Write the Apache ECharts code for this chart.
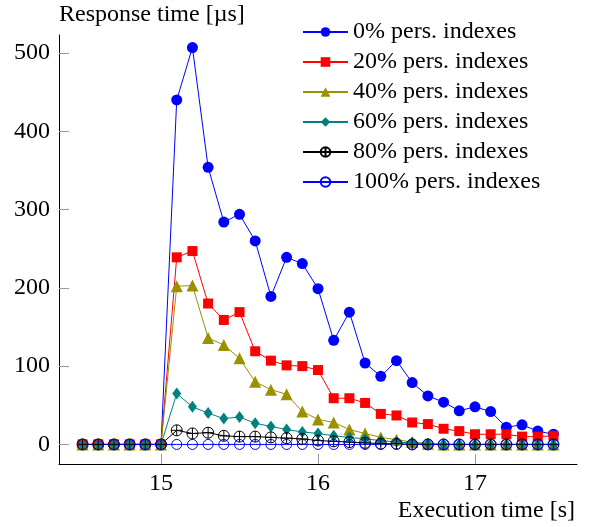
<!DOCTYPE html>
<html>
<head>
<meta charset="utf-8">
<script src="https://cdn.jsdelivr.net/npm/echarts@6/dist/echarts.min.js"></script>
<style>
  html, body { margin: 0; padding: 0; background: #fff; }
  #container { width: 597px; height: 527px; }
</style>
</head>
<body>
<div id="container"></div>
<script>
(function() {
"use strict";

    // execution time [s], one sample every 0.1 s
    var times = [14.5, 14.6, 14.7, 14.8, 14.9, 15.0, 15.1, 15.2, 15.3, 15.4, 15.5,
                 15.6, 15.7, 15.8, 15.9, 16.0, 16.1, 16.2, 16.3, 16.4, 16.5,
                 16.6, 16.7, 16.8, 16.9, 17.0, 17.1, 17.2, 17.3, 17.4, 17.5];

    // response time [µs]
    var pers0 = [0, 0, 0, 0, 0, 0, 440, 507, 354, 284, 294,
                 260, 189, 239, 231, 199, 133, 169, 104, 87, 107,
                 79, 62, 54, 43, 48, 42, 22, 25, 17, 13];
    var pers20 = [0, 0, 0, 0, 0, 0, 239, 247, 180, 159, 169,
                  119, 107, 101, 100, 95, 59, 59, 53, 39, 37,
                  28, 26, 20, 17, 13, 13, 13, 10, 10, 11];
    var pers40 = [0, 0, 0, 0, 0, 0, 202, 203, 136, 127, 110,
                  80, 70, 64, 42, 32, 28, 19, 14, 9, 6,
                  3, 1, 0, 0, 0, 0, 0, 0, 0, 0];
    var pers60 = [0, 0, 0, 0, 0, 0, 65, 48, 40, 33, 35,
                  27, 23, 19, 16, 14, 11, 9, 7, 5, 3,
                  2, 1, 0, 0, 0, 0, 0, 0, 0, 0];
    var pers80 = [0, 0, 0, 0, 0, 0, 18, 14, 15, 11, 10,
                  10, 9, 8, 7, 5, 4, 3, 2, 1, 1,
                  0, 0, 0, 0, 0, 0, 0, 0, 0, 0];
    var pers100 = [0, 0, 0, 0, 0, 0, 0, 0, 0, 0, 0,
                   0, 0, 0, 0, 0, 0, 0, 0, 0, 0,
                   0, 0, 0, 0, 0, 0, 0, 0, 0, 0];

    var names = ['0% pers. indexes', '20% pers. indexes', '40% pers. indexes',
                 '60% pers. indexes', '80% pers. indexes', '100% pers. indexes'];
    var xTicks = [15, 16, 17];
    var yTicks = [0, 100, 200, 300, 400, 500];

    var font = '"Liberation Serif", "DejaVu Serif", serif';
    var oplus = 'path://M10,1 A9,9 0 1,1 10,19 A9,9 0 1,1 10,1 Z M1,10 L19,10 M10,1 L10,19';

    function pairs(vals) {
        return times.map(function(t, i) { return [t, vals[i]]; });
    }

    function line(name, vals, color, symbol, size, fill) {
        return {
            name: name,
            type: 'line',
            data: pairs(vals),
            symbol: symbol,
            symbolSize: size,
            showAllSymbol: true,
            lineStyle: { color: color, width: 1 },
            itemStyle: fill ? { color: color } :
                { color: 'rgba(255,255,255,0)', borderColor: color, borderWidth: 1 },
            emphasis: { disabled: true }
        };
    }

    var dom = document.getElementById('container');
    var myChart = echarts.init(dom, null, { renderer: 'canvas' });

    var option = {
        animation: false,
        backgroundColor: '#fff',
        textStyle: { fontFamily: font },
        grid: { left: 59, right: 20, top: 35, bottom: 63 },
        legend: {
            orient: 'vertical',
            left: 297,
            top: 15,
            itemWidth: 45,
            itemHeight: 12,
            itemGap: 6,
            textStyle: { fontFamily: font, fontSize: 24, lineHeight: 24, color: '#000' },
            data: names
        },
        xAxis: {
            type: 'value',
            min: 14.35,
            max: 17.65,
            name: 'Execution time [s]',
            nameLocation: 'end',
            nameGap: -2,
            nameTextStyle: {
                fontFamily: font, fontSize: 24, color: '#000',
                align: 'right', verticalAlign: 'top', padding: [35, 0, 0, 0]
            },
            splitLine: { show: false },
            axisLine: { onZero: false, lineStyle: { color: '#000', width: 1 } },
            axisTick: { inside: true, length: 10, customValues: xTicks,
                        lineStyle: { color: '#999' } },
            axisLabel: { customValues: xTicks, margin: 8, color: '#000',
                         fontFamily: font, fontSize: 24 }
        },
        yAxis: {
            type: 'value',
            min: -25,
            max: 523,
            name: 'Response time [µs]',
            nameLocation: 'end',
            nameGap: 20,
            nameTextStyle: {
                fontFamily: font, fontSize: 24, color: '#000',
                align: 'left', verticalAlign: 'middle'
            },
            splitLine: { show: false },
            axisLine: { show: true, onZero: false, lineStyle: { color: '#000', width: 1 } },
            axisTick: { show: true, inside: true, length: 10, customValues: yTicks,
                        lineStyle: { color: '#999' } },
            axisLabel: { customValues: yTicks, margin: 9, color: '#000',
                         fontFamily: font, fontSize: 24 }
        },
        series: [
            line(names[0], pers0, '#0000ff', 'circle', 11, true),
            line(names[1], pers20, '#ff0000', 'rect', 10, true),
            line(names[2], pers40, '#9a9000', 'triangle', 12, true),
            line(names[3], pers60, '#008080', 'diamond', [9, 12], true),
            line(names[4], pers80, '#000000', oplus, 11, false),
            line(names[5], pers100, '#0000ff', 'circle', 10, false)
        ]
    };

    myChart.setOption(option);

})();
</script>
</body>
</html>
